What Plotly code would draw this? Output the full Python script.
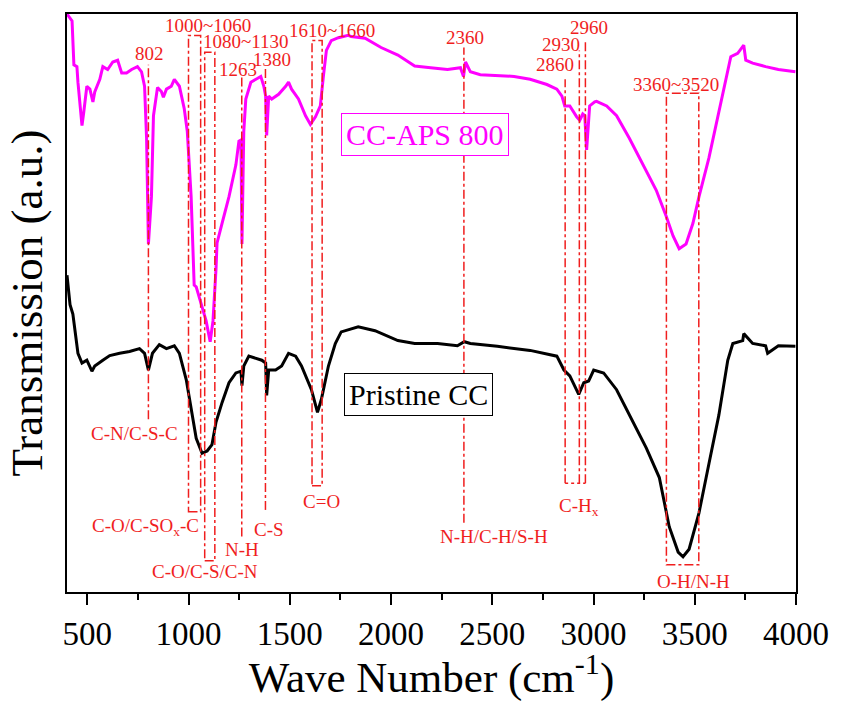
import plotly.graph_objects as go

# ---------------- data ----------------
aps_wn = [400, 415, 425, 434, 449, 454, 474, 483, 498, 513, 528, 537, 562, 577, 601, 626, 650, 670, 694, 719,
          748, 768, 783, 793, 802, 817, 827, 847, 866, 876, 891, 915, 930, 955, 979, 994, 1013, 1023, 1028, 1038,
          1053, 1087, 1107, 1121, 1136, 1141, 1166, 1200, 1234, 1249, 1259, 1264, 1273, 1283, 1308, 1332, 1357,
          1372, 1381, 1386, 1396, 1411, 1445, 1480, 1494, 1509, 1543, 1578, 1602, 1627, 1651, 1666, 1681, 1705,
          1740, 1789, 1803, 1872, 1951, 2034, 2117, 2196, 2279, 2343, 2358, 2368, 2392, 2441, 2525, 2608, 2687,
          2770, 2819, 2844, 2858, 2883, 2917, 2932, 2947, 2957, 2966, 2981, 3006, 3015, 3065, 3114, 3177, 3261,
          3310, 3359, 3393, 3423, 3457, 3491, 3521, 3570, 3619, 3653, 3678, 3712, 3742, 3752, 3786, 3850, 3913,
          3997]
aps_t = [100.0, 99.3, 98.8, 91.2, 90.9, 88.2, 80.7, 83.1, 87.5, 87.0, 84.8, 86.5, 88.7, 90.9, 90.4, 91.7, 92.0,
         89.8, 89.8, 90.4, 90.9, 90.0, 87.5, 78.5, 60.2, 68.4, 82.4, 87.3, 86.6, 85.6, 87.0, 87.5, 88.7, 87.5,
         83.6, 79.7, 68.4, 58.2, 53.1, 52.8, 50.9, 46.9, 43.3, 46.9, 56.0, 60.4, 63.8, 68.4, 73.9, 78.0, 78.2,
         60.2, 79.7, 85.3, 88.2, 88.7, 89.2, 87.5, 85.8, 79.0, 85.8, 85.3, 86.1, 87.5, 88.2, 87.0, 85.3, 82.4,
         80.9, 82.2, 84.1, 89.2, 93.7, 95.4, 95.9, 96.3, 96.1, 95.8, 94.2, 92.9, 91.0, 90.7, 90.4, 90.7, 89.2,
         91.7, 90.0, 89.5, 89.3, 89.2, 88.7, 87.8, 87.0, 85.8, 84.1, 84.1, 82.2, 81.6, 82.7, 82.4, 76.5, 84.1,
         84.8, 84.9, 84.1, 82.4, 78.5, 72.9, 69.5, 65.0, 61.6, 59.4, 60.2, 63.8, 68.4, 75.1, 83.1, 88.2, 92.6,
         93.2, 94.6, 92.0, 91.5, 90.9, 90.4, 90.0]

cc_wn = [400, 415, 429, 454, 474, 498, 523, 537, 577, 611, 660, 709, 758, 783, 802, 822, 856, 891, 930, 955,
         989, 1013, 1038, 1067, 1092, 1116, 1136, 1166, 1200, 1234, 1259, 1264, 1273, 1298, 1332, 1362, 1381,
         1386, 1396, 1430, 1460, 1494, 1529, 1558, 1607, 1637, 1656, 1691, 1725, 1754, 1838, 1921, 2034, 2117,
         2230, 2328, 2362, 2392, 2525, 2687, 2819, 2854, 2883, 2927, 2952, 2976, 3001, 3050, 3114, 3197, 3261,
         3325, 3374, 3418, 3442, 3472, 3521, 3570, 3619, 3663, 3688, 3737, 3742, 3786, 3850, 3860, 3913, 3997]
cc_t = [54.8, 49.7, 48.1, 41.3, 39.6, 40.1, 38.2, 39.1, 40.1, 40.9, 41.3, 41.6, 42.1, 41.3, 38.4, 41.3, 42.8,
        42.1, 42.6, 41.3, 36.7, 31.6, 26.6, 24.0, 24.4, 25.5, 29.4, 32.8, 36.2, 37.9, 38.2, 35.7, 39.1, 40.8,
        40.4, 40.1, 39.6, 34.0, 38.4, 38.4, 39.1, 41.3, 40.8, 39.1, 35.0, 31.1, 33.3, 39.1, 43.0, 45.0, 45.9,
        45.2, 43.5, 43.0, 43.0, 42.6, 43.3, 43.0, 42.5, 41.8, 40.8, 38.4, 37.4, 34.2, 36.2, 36.5, 38.4, 37.9,
        35.0, 29.4, 24.9, 19.8, 11.3, 6.9, 6.1, 7.4, 13.7, 22.2, 30.6, 40.1, 43.0, 43.5, 44.7, 43.0, 42.6,
        41.3, 42.6, 42.5]

# single marker lines: wavenumber, top, bottom
line_wn = [802, 1263, 1380, 2360, 2860, 2930, 2960]
line_top = [91.2, 89.0, 90.9, 94.2, 88.7, 93.7, 95.4]
line_bot = [29.9, 9.6, 14.2, 12.0, 18.8, 18.8, 18.8]

# band boxes: left, right, top, bottom
box_lo = [1000, 1080, 1610, 3360]
box_hi = [1060, 1130, 1660, 3520]
box_top = [96.3, 93.4, 95.4, 86.3]
box_bot = [13.9, 5.4, 18.4, 4.7]

# C-Hx group base line
chx_lo, chx_hi, chx_y = 2860, 2960, 18.8

peak_labels = ["802", "1000~1060", "1080~1130", "1263", "1380", "1610~1660", "2360", "2860", "2930",
               "2960", "3360~3520"]
peak_x = [807, 1097, 1283, 1244, 1411, 1710, 2363, 2809, 2839, 2976, 3408]
peak_y = [93.2, 98.0, 95.3, 90.4, 92.2, 97.1, 95.9, 91.3, 94.8, 97.6, 87.8]

group_labels = ["C-N/C-S-C", "C-O/C-SO<sub>x</sub>-C", "C-O/C-S/C-N", "N-H", "C-S", "C=O",
                "N-H/C-H/S-H", "C-H<sub>x</sub>", "O-H/N-H"]
group_x = [734, 788, 1082, 1264, 1396, 1656, 2510, 2927, 3496]
group_y = [27.4, 11.3, 3.6, 7.4, 10.8, 15.6, 9.6, 14.7, 1.9]

series_names = ["CC-APS 800", "Pristine CC"]
series_label_x = [2170, 2137]
series_label_y = [79.2, 34.2]

# ---------------- figure ----------------
FONT = "Liberation Serif, Times New Roman, serif"
RED = "#f01e1e"

fig = go.Figure()
fig.add_trace(go.Scatter(x=aps_wn, y=aps_t, mode="lines", line=dict(color="#ff00ff", width=3),
                         name=series_names[0], showlegend=False))
fig.add_trace(go.Scatter(x=cc_wn, y=cc_t, mode="lines", line=dict(color="black", width=3),
                         name=series_names[1], showlegend=False))

for x, t, b in zip(line_wn, line_top, line_bot):
    fig.add_shape(type="line", x0=x, x1=x, y0=b, y1=t, xref="x", yref="y",
                  line=dict(color=RED, width=1.5, dash="dashdot"))
for lo, hi, t, b in zip(box_lo, box_hi, box_top, box_bot):
    fig.add_shape(type="rect", x0=lo, x1=hi, y0=b, y1=t, xref="x", yref="y",
                  line=dict(color=RED, width=1.5, dash="dashdot"))
fig.add_shape(type="line", x0=chx_lo, x1=chx_hi, y0=chx_y, y1=chx_y, xref="x", yref="y",
              line=dict(color=RED, width=1.5, dash="dot"))

for txt, x, y in zip(peak_labels, peak_x, peak_y):
    fig.add_annotation(x=x, y=y, text=txt, showarrow=False, xref="x", yref="y",
                       font=dict(family=FONT, size=19, color=RED))
for txt, x, y in zip(group_labels, group_x, group_y):
    fig.add_annotation(x=x, y=y, text=txt, showarrow=False, xref="x", yref="y",
                       font=dict(family=FONT, size=19, color=RED))

fig.add_annotation(x=series_label_x[0], y=series_label_y[0], text=series_names[0], showarrow=False,
                   font=dict(family=FONT, size=30, color="#ff00ff"), bordercolor="#ff00ff",
                   borderwidth=1, borderpad=4, bgcolor="white")
fig.add_annotation(x=series_label_x[1], y=series_label_y[1], text=series_names[1], showarrow=False,
                   font=dict(family=FONT, size=30, color="black"), bordercolor="black",
                   borderwidth=1, borderpad=4, bgcolor="white")

fig.update_xaxes(range=[400, 4000], tick0=500, dtick=500, ticks="outside", ticklen=11, tickwidth=2,
                 tickcolor="black", showline=True, linewidth=2, linecolor="black", mirror=True,
                 showgrid=False, zeroline=False,
                 minor=dict(ticks="outside", ticklen=6, tickwidth=2, tickcolor="black", dtick=250,
                            tick0=250, showgrid=False),
                 tickfont=dict(family=FONT, size=33, color="black"),
                 title=dict(text="Wave Number (cm<sup>-1</sup>)", font=dict(family=FONT, size=43,
                                                                            color="black"), standoff=8))
fig.update_yaxes(range=[0, 100], showticklabels=False, ticks="", showline=True, linewidth=2,
                 linecolor="black", mirror=True, showgrid=False, zeroline=False,
                 title=dict(text="Transmission (a.u.)", font=dict(family=FONT, size=45, color="black"),
                            standoff=8))

fig.update_layout(width=841, height=702, margin=dict(l=67, r=40, t=13, b=98),
                  plot_bgcolor="white", paper_bgcolor="white", showlegend=False)

fig.write_html("out.html")
